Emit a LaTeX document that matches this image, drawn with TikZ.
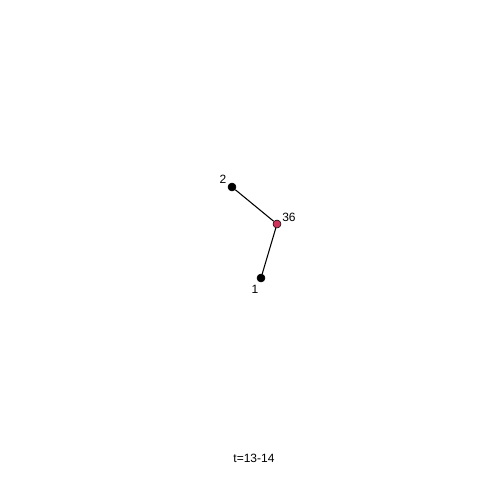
\documentclass[tikz,border=0pt]{standalone}
\usepackage{fontspec}
\setmainfont{Liberation Sans}
\usepackage{tikz}
\definecolor{hubred}{RGB}{205,50,90}

\begin{document}
\begin{tikzpicture}[x=0.75pt,y=-0.75pt,
  vert/.style={circle,draw=black,fill=black,inner sep=0pt,minimum size=6pt},
  edge/.style={line width=0.8pt},
  lbl/.style={font=\fontsize{9}{10}\selectfont}]
\useasboundingbox (0,0) rectangle (480,480);
\node[vert] (v2) at (232,187) {};
\node[vert,fill=hubred] (v36) at (277,224) {};
\node[vert] (v1) at (261,278) {};
\draw[edge] (v2) -- (v36);
\draw[edge] (v36) -- (v1);
\node[lbl] at (223,179) {2};
\node[lbl] at (289,217) {36};
\node[lbl] at (255,289) {1};
\node[lbl] (time) at (254,458) {t=13-14};
\end{tikzpicture}
\end{document}
